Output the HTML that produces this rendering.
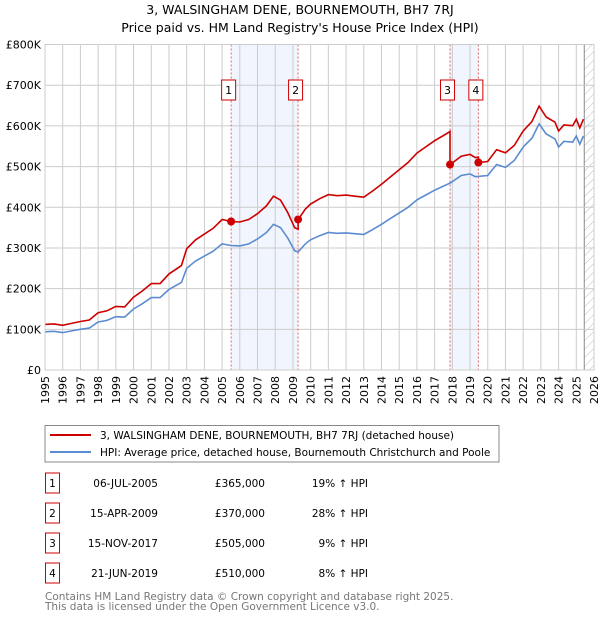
<!DOCTYPE html>
<html><head><meta charset="utf-8"><style>
body{margin:0;background:#fff;font-family:"DejaVu Sans","Liberation Sans",sans-serif;}
</style></head><body>
<svg id="chart" width="600" height="620" xmlns="http://www.w3.org/2000/svg" font-family="DejaVu Sans, Liberation Sans, sans-serif">
<text x="300" y="14" text-anchor="middle" font-size="12.5" fill="#000">3, WALSINGHAM DENE, BOURNEMOUTH, BH7 7RJ</text>
<text x="300" y="32" text-anchor="middle" font-size="12.5" fill="#000">Price paid vs. HM Land Registry's House Price Index (HPI)</text>
<defs><pattern id="hatch" width="6" height="6" patternUnits="userSpaceOnUse" patternTransform="rotate(45)"><line x1="0" y1="0" x2="0" y2="6" stroke="#bbb" stroke-width="1"/></pattern></defs>
<g id="plot"></g>
<rect x="45" y="425.5" width="454" height="36.5" fill="#fff" stroke="#888"/>
<line x1="50" y1="435" x2="91" y2="435" stroke="#cc0000" stroke-width="2"/>
<text x="100" y="439" font-size="10.5">3, WALSINGHAM DENE, BOURNEMOUTH, BH7 7RJ (detached house)</text>
<line x1="50" y1="452" x2="91" y2="452" stroke="#5b8bd0" stroke-width="2"/>
<text x="100" y="456" font-size="10.5">HPI: Average price, detached house, Bournemouth Christchurch and Poole</text>
<g id="table" font-size="10.5"></g>
<text x="45" y="600" font-size="10.5" fill="#777">Contains HM Land Registry data © Crown copyright and database right 2025.</text>
<text x="45" y="610" font-size="10.5" fill="#777">This data is licensed under the Open Government Licence v3.0.</text>
</svg>
<script>
const hpiYears=[1995,1995.5,1996,1996.5,1997,1997.5,1998,1998.5,1999,1999.5,2000,2000.5,2001,2001.5,2002,2002.7,2003,2003.5,2004,2004.5,2005,2005.5,2006,2006.5,2007,2007.5,2007.9,2008.3,2008.7,2009.1,2009.3,2009.7,2010,2010.5,2011,2011.5,2012,2012.5,2013,2013.5,2014,2014.5,2015,2015.5,2016,2016.5,2017,2017.5,2017.9,2018.5,2019,2019.3,2020,2020.5,2021,2021.5,2022,2022.5,2022.9,2023.3,2023.8,2024,2024.3,2024.8,2025,2025.2,2025.4];
const hpiValues=[94,95,92,96,100,103,118,122,131,130,150,163,178,178,198,215,250,268,280,292,310,306,305,310,322,338,358,350,325,293,290,310,320,330,338,336,337,335,333,345,358,372,386,400,418,430,442,452,460,478,482,475,478,505,498,515,548,570,605,580,568,548,562,560,575,555,575];
const saleLabels=["1","2","3","4"];
const saleYears=[2005.51,2009.29,2017.87,2019.47];
const salePrices=[365,370,505,510];
const saleDates=["06-JUL-2005","15-APR-2009","15-NOV-2017","21-JUN-2019"];
const salePcts=["19% ↑ HPI","28% ↑ HPI","9% ↑ HPI","8% ↑ HPI"];
const yTicks=[0,100,200,300,400,500,600,700,800];
const yTickLabels=["£0","£100K","£200K","£300K","£400K","£500K","£600K","£700K","£800K"];
const xTicks=[1995,1996,1997,1998,1999,2000,2001,2002,2003,2004,2005,2006,2007,2008,2009,2010,2011,2012,2013,2014,2015,2016,2017,2018,2019,2020,2021,2022,2023,2024,2025,2026];

const NS="http://www.w3.org/2000/svg";
const L=45,R=594,T=44.5,B=370;
const X=y=>L+(y-1995)/(2026-1995)*(R-L);
const Y=v=>B-v/800*(B-T);
function mk(tag,attrs,parent){const e=document.createElementNS(NS,tag);for(const k in attrs)e.setAttribute(k,attrs[k]);parent.appendChild(e);return e;}
const g=document.getElementById('plot');
function hpiAt(t){for(let i=0;i<hpiYears.length-1;i++){if(t<=hpiYears[i+1]){const f=(t-hpiYears[i])/(hpiYears[i+1]-hpiYears[i]);return hpiValues[i]+f*(hpiValues[i+1]-hpiValues[i]);}}return hpiValues[hpiValues.length-1];}

for(let i=0;i<saleYears.length;i+=2){
  const r=mk('rect',{x:X(saleYears[i]),y:T,width:X(saleYears[i+1])-X(saleYears[i]),height:B-T,fill:'#eef3fc',opacity:0.8},g);
  
  
}
const hx=X(2025.45);
const h=mk('rect',{x:hx,y:T,width:R-hx,height:B-T,fill:'url(#hatch)'},g);


mk('line',{x1:hx,y1:T,x2:hx,y2:B,stroke:'#888','stroke-width':1},g);
xTicks.forEach(t=>{
  const ln=mk('line',{x1:X(t),y1:T,x2:X(t),y2:B,stroke:'#ccc','stroke-width':1},g);
  
  
  const tx=mk('text',{x:0,y:0,transform:`translate(${X(t)+4},${B+6}) rotate(-90)`,'text-anchor':'end','font-size':11},g);
  tx.textContent=t;
  
  
});
yTicks.forEach((t,i)=>{
  const ln=mk('line',{x1:L,y1:Y(t),x2:R,y2:Y(t),stroke:'#ccc','stroke-width':1},g);
  
  
  const tx=mk('text',{x:L-4,y:Y(t)+4,'text-anchor':'end','font-size':11},g);
  tx.textContent=yTickLabels[i];
  
  
});
saleYears.forEach((s,i)=>{
  const ln=mk('line',{x1:X(s),y1:T,x2:X(s),y2:B,stroke:'#e06666','stroke-width':1,'stroke-dasharray':'2,2'},g);
  
  
  const bx=mk('rect',{x:X(s)-9.5,y:80,width:14,height:20,fill:'#fff',stroke:'#cc0000'},g);
  
  
  const tx=mk('text',{x:X(s)-2.5,y:94,'text-anchor':'middle','font-size':11},g);
  tx.textContent=saleLabels[i];
  
  
});
const hp=hpiYears.map((t,i)=>X(t).toFixed(1)+','+Y(hpiValues[i]).toFixed(1)).join(' ');
const hl=mk('polyline',{points:hp,fill:'none',stroke:'#5b8bd0','stroke-width':1.6},g);


function ratioAt(t){let k=0;for(let i=0;i<saleYears.length;i++){if(t>=saleYears[i])k=i;}return salePrices[k]/hpiAt(saleYears[k]);}
const pts=[];
const allT=hpiYears.concat(saleYears).sort((a,b)=>a-b);
allT.forEach(t=>{
  const idx=saleYears.indexOf(t);
  if(idx>0){pts.push([t,hpiAt(t)*salePrices[idx-1]/hpiAt(saleYears[idx-1])]);}
  pts.push([t,hpiAt(t)*ratioAt(t)]);
});
const pl=mk('polyline',{points:pts.map(p=>X(p[0]).toFixed(1)+','+Y(p[1]).toFixed(1)).join(' '),fill:'none',stroke:'#cc0000','stroke-width':1.6},g);


saleYears.forEach((s,i)=>{
  const c=mk('circle',{cx:X(s),cy:Y(salePrices[i]),r:4,fill:'#cc0000'},g);
  
  
});
mk('rect',{x:L,y:T,width:R-L,height:B-T,fill:'none',stroke:'#ccc'},g);
const tb=document.getElementById('table');
saleLabels.forEach((lb,i)=>{
  const cy=483+i*30;
  const bx=mk('rect',{x:45.5,y:cy-10,width:14,height:20,fill:'#fff',stroke:'#cc0000'},tb);
  
  
  const t1=mk('text',{x:52.5,y:cy+4,'text-anchor':'middle'},tb);t1.textContent=lb;
  
  
  const t2=mk('text',{x:158,y:cy+4,'text-anchor':'end'},tb);t2.textContent=saleDates[i];
  
  
  const t3=mk('text',{x:265,y:cy+4,'text-anchor':'end'},tb);t3.textContent='£'+(salePrices[i]*1000).toLocaleString('en-GB');
  
  
  const t4=mk('text',{x:368,y:cy+4,'text-anchor':'end'},tb);t4.textContent=salePcts[i];
  
  
});
</script>
</body></html>
